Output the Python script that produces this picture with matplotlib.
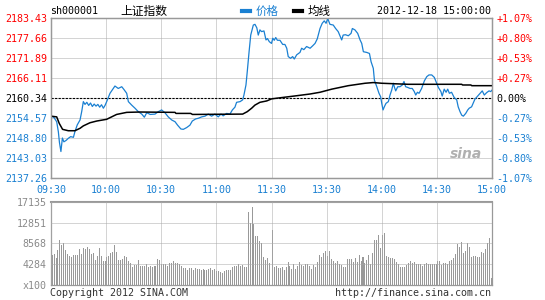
import numpy as np
import matplotlib.pyplot as plt
from matplotlib.lines import Line2D

plt.rcParams['font.family'] = ['DejaVu Sans Mono', 'Noto Sans CJK SC']

# ---- data ----
prev_close = 2160.34
price_ticks = [2137.26, 2143.03, 2148.80, 2154.57, 2160.34, 2166.11, 2171.89, 2177.66, 2183.43]
price_labels = ['2137.26', '2143.03', '2148.80', '2154.57', '2160.34',
                '2166.11', '2171.89', '2177.66', '2183.43']
pct_labels = ['-1.07%', '-0.80%', '-0.53%', '-0.27%', '0.00%',
              '+0.27%', '+0.53%', '+0.80%', '+1.07%']
time_ticks = [0, 30, 60, 90, 120, 150, 180, 210, 240]
time_labels = ['09:30', '10:00', '10:30', '11:00', '11:30', '13:30', '14:00', '14:30', '15:00']
vol_ticks = [0, 4284, 8568, 12851, 17135]
vol_labels = ['x100', '4284', '8568', '12851', '17135']

# minutes since 09:30 (lunch break removed) and index price
price_t = [0, 1.5, 3.1, 4.0, 4.6, 5.4, 6.2, 7.0, 8.2, 9.4, 10.7, 12.2, 13.0, 14.3, 15.8, 16.7,
           17.6, 18.5, 19.5, 20.5, 21.5, 22.5, 23.5, 24.5, 25.5, 26.5, 27.5, 28.5, 29.4, 30.3,
           32.1, 33.9, 34.8, 36.6, 38.5, 39.7, 41.2, 42.1, 43.9, 45.7, 47.0, 47.5, 49.4, 50.8,
           52.1, 54.0, 56.6, 58.4, 60.2, 62.0, 63.8, 65.7, 67.5, 68.9, 70.7, 72.0, 73.8, 75.6,
           76.9, 78.7, 80.2, 82.0, 83.8, 85.6, 87.4, 89.2, 91.0, 92.5, 93.7, 95.6, 97.4, 98.7,
           100.1, 101.0, 102.9, 104.3, 105.0, 106.1, 106.8, 107.8, 108.7, 110.1, 111.0, 112.0,
           112.8, 113.7, 114.6, 115.9, 117.0, 117.8, 118.8, 120.0, 120.7, 121.5, 122.3, 123.2,
           124.6, 126.1, 127.3, 128.3, 129.1, 130.4, 131.5, 132.4, 133.7, 135.5, 136.4, 137.6,
           139.1, 141.0, 142.4, 143.7, 144.9, 146.4, 147.6, 148.7, 149.7, 150.6, 151.8, 153.6,
           154.9, 156.3, 158.2, 159.0, 160.3, 161.8, 163.3, 164.0, 165.4, 166.9, 168.2, 169.1,
           170.0, 171.8, 173.3, 174.2, 175.4, 176.0, 177.3, 178.5, 179.4, 180.0, 180.7, 181.4,
           182.3, 183.6, 184.5, 185.4, 186.3, 187.0, 187.6, 188.7, 189.9, 191.2, 192.1, 193.0,
           194.1, 195.4, 196.6, 197.7, 198.5, 199.4, 200.3, 201.7, 203.2, 204.5, 205.7, 207.2,
           208.6, 209.9, 210.8, 212.2, 212.9, 214.0, 215.0, 215.9, 216.8, 218.0, 219.4, 220.8,
           221.6, 222.6, 223.5, 224.4, 225.7, 226.8, 227.6, 228.9, 229.9, 230.7, 232.2, 233.5,
           234.7, 235.8, 237.1, 238.4, 239.3, 240.0]
price_v = [2155.1, 2154.8, 2153.5, 2150.6, 2147.5, 2144.9, 2148.8, 2147.7, 2148.1, 2148.7, 2149.2,
           2149.0, 2150.6, 2152.6, 2154.0, 2156.4, 2159.3, 2158.5, 2159.1, 2158.2, 2158.9, 2157.9,
           2158.6, 2158.0, 2158.5, 2157.7, 2158.4, 2157.4, 2158.2, 2159.3, 2161.7, 2163.1, 2163.8,
           2163.1, 2163.6, 2162.8, 2161.7, 2159.3, 2158.3, 2157.4, 2156.7, 2156.4, 2155.7, 2154.8,
           2156.1, 2155.6, 2155.7, 2156.4, 2156.9, 2156.1, 2154.9, 2154.0, 2153.5, 2152.5, 2151.4,
           2151.3, 2151.8, 2152.5, 2153.7, 2154.3, 2154.5, 2154.9, 2155.1, 2155.7, 2155.1, 2155.7,
           2154.9, 2155.7, 2155.2, 2155.9, 2155.7, 2156.9, 2157.7, 2159.1, 2159.3, 2159.8, 2161.2,
           2164.1, 2167.9, 2173.7, 2178.5, 2181.4, 2181.6, 2180.6, 2178.5, 2180.0, 2179.5, 2179.7,
           2177.1, 2177.5, 2176.6, 2176.1, 2177.6, 2177.0, 2177.8, 2177.0, 2177.0, 2175.8, 2175.8,
           2174.7, 2172.3, 2171.8, 2172.3, 2171.6, 2172.8, 2173.5, 2174.7, 2174.3, 2175.2, 2174.7,
           2175.4, 2176.1, 2177.4, 2180.4, 2181.9, 2182.6, 2181.9, 2183.3, 2181.6, 2181.4, 2180.4,
           2179.5, 2177.1, 2178.5, 2178.6, 2178.3, 2179.0, 2180.4, 2180.0, 2179.0, 2177.1, 2176.1,
           2173.7, 2173.5, 2173.2, 2170.8, 2168.9, 2165.5, 2163.6, 2161.7, 2160.7, 2158.8, 2156.9,
           2157.8, 2158.8, 2159.3, 2161.2, 2162.6, 2164.6, 2163.3, 2162.4, 2163.6, 2163.6, 2164.1,
           2165.1, 2163.6, 2163.4, 2163.1, 2163.1, 2162.2, 2161.2, 2162.0, 2161.7, 2163.1, 2165.3,
           2166.5, 2167.0, 2167.0, 2166.3, 2164.6, 2163.4, 2162.2, 2160.9, 2162.9, 2162.0, 2162.9,
           2161.7, 2162.0, 2160.5, 2159.8, 2157.8, 2156.4, 2155.4, 2155.1, 2155.9, 2156.9, 2157.4,
           2157.8, 2159.0, 2160.0, 2160.9, 2161.7, 2162.4, 2161.2, 2161.9, 2162.4, 2162.2, 2162.6]

avg_t = [0, 3.1, 4.5, 6.3, 9.4, 13.0, 15.8, 17.6, 21.2, 24.9, 30.3, 33.0, 35.7, 41.2, 48.4, 67.5,
         68.0, 76.0, 77.0, 104.3, 106.8, 109.2, 111.0, 113.7, 117.4, 120.1, 124.6, 133.7, 141.0,
         146.4, 152.8, 161.8, 170.9, 175.4, 180.0, 194.4, 223.5, 224.0, 228.5, 229.0, 240.0]
avg_v = [2155.1, 2154.9, 2153.0, 2151.3, 2150.9, 2150.9, 2151.6, 2152.3, 2153.2, 2153.7, 2154.2,
         2154.9, 2155.6, 2156.2, 2156.3, 2156.2, 2155.9, 2155.9, 2155.6, 2155.7, 2156.4, 2157.4,
         2158.3, 2159.1, 2159.5, 2160.1, 2160.4, 2161.0, 2161.5, 2162.0, 2162.9, 2163.9, 2164.6,
         2164.8, 2164.6, 2164.3, 2164.3, 2164.1, 2164.1, 2163.9, 2163.9]

# volume (x100), morning and afternoon sessions
vol_am = [6170, 6370, 5480, 7200, 9250, 8225, 8570, 7200, 6370, 5960,
          5690, 6170, 6170, 6170, 7330, 6370, 7540, 7330, 7750, 7330,
          6370, 6650, 5140, 5960, 7540, 5960, 5000, 4930, 5690, 5960,
          6650, 6850, 8225, 6850, 5140, 5140, 5280, 5960, 5830, 4930,
          4460, 3770, 4110, 4110, 5140, 3910, 3910, 3910, 4320, 3770,
          3910, 3770, 3910, 3910, 5280, 5140, 4320, 4320, 4320, 3910,
          4590, 4460, 4870, 4460, 4590, 4320, 3910, 3430, 3430, 3080,
          3430, 3430, 3080, 3430, 3220, 3220, 3080, 3220, 3080, 3080,
          3220, 3430, 3080, 3220, 2950, 2950, 2740, 2540, 2950, 3080,
          3080, 3080, 3630, 3910, 3910, 4320, 3910, 4110, 3770, 3770,
          15080, 12820, 16110, 12540, 10080, 10080, 9120, 8570, 5690, 5140, 5480, 4460]
vol_pm = [11310, 3770, 3910, 3430, 3430, 3630, 3080, 3630, 4800, 3910,
          3220, 4320, 3220, 3910, 4800, 4110, 3910, 4320, 4320, 3910,
          3220, 4110, 3770, 4800, 6170, 5830, 6510, 7060, 5960, 7060,
          5280, 5000, 4590, 5000, 4320, 4110, 3770, 3630, 5280, 5280,
          5280, 4800, 5480, 4800, 6170, 5000, 5830, 4590, 5140, 6170,
          4320, 6510, 9250, 9250, 10280, 7540, 10280, 10620, 5960, 5690,
          5480, 5480, 5280, 4800, 4320, 3630, 3770, 3630, 4110, 4450,
          5000, 4450, 4800, 4320, 4320, 4320, 3910, 4320, 4590, 4320,
          4320, 4320, 4320, 4320, 5000, 5000, 4110, 4590, 4590, 4320,
          5000, 5140, 5480, 6370, 8430, 7880, 8910, 6510, 7060, 8700,
          7750, 5830, 5960, 5960, 5830, 5690, 6850, 6650, 7330, 8570,
          9600, 1370]

BLUE = '#1a80d2'
RED = '#ff0000'
GRAY = '#999999'
FS = 7.2

fig = plt.figure(figsize=(5.45, 3.0), dpi=100)
ax = fig.add_axes([51 / 545, 1 - 178 / 300, 441 / 545, 160 / 300])
axv = fig.add_axes([51 / 545, 1 - 285 / 300, 441 / 545, 83.3 / 300])

dot = (0, (1, 1))
for a in (ax, axv):
    a.set_xlim(0, 240)
    a.set_xticks(time_ticks)
    a.tick_params(length=0)
    a.grid(True, color='#aaaaaa', linestyle=dot, linewidth=0.72)
    a.set_axisbelow(False)
    for s in a.spines.values():
        s.set_color(GRAY)
        s.set_linewidth(0.9)

# price panel
ax.set_ylim(price_ticks[0], price_ticks[-1])
ax.set_yticks(price_ticks)
ax.set_yticklabels(price_labels, fontsize=FS)
ax.set_xticklabels(time_labels, fontsize=FS, color=BLUE)
ax.tick_params(axis='y', pad=3)
ax.tick_params(axis='x', pad=5)
for i, lab in enumerate(ax.get_yticklabels()):
    lab.set_color(RED if i > 4 else ('black' if i == 4 else BLUE))

ax.axhline(prev_close, color='black', linestyle=(0, (2, 1.2)), linewidth=0.8, zorder=3)
ax.plot(price_t, price_v, color=BLUE, linewidth=0.9, zorder=4)
ax.plot(avg_t, avg_v, color='black', linewidth=1.1, zorder=5)
ax.text(0.94, 0.15, 'sina', transform=ax.transAxes, ha='center', va='center',
        fontsize=10, fontstyle='italic', fontweight='bold', color='#b0b0b0',
        family='DejaVu Sans', zorder=2)

ax2 = ax.twinx()
ax2.set_ylim(price_ticks[0], price_ticks[-1])
ax2.set_yticks(price_ticks)
ax2.set_yticklabels(pct_labels, fontsize=FS)
ax2.tick_params(length=0, pad=3)
for s in ax2.spines.values():
    s.set_color(GRAY)
    s.set_linewidth(0.9)
for i, lab in enumerate(ax2.get_yticklabels()):
    lab.set_color(RED if i > 4 else ('black' if i == 4 else BLUE))

# volume panel
am_x = np.linspace(0.6, 119.0, len(vol_am))
pm_x = np.linspace(120.4, 239.6, len(vol_pm))
axv.bar(am_x, vol_am, width=0.55, color=GRAY, linewidth=0, zorder=1)
axv.bar(pm_x, vol_pm, width=0.55, color=GRAY, linewidth=0, zorder=1)
axv.set_ylim(0, vol_ticks[-1])
axv.set_yticks(vol_ticks)
axv.set_yticklabels(vol_labels, fontsize=FS, color='#8a8a8a')
axv.set_xticklabels([])
axv.tick_params(axis='y', pad=3)
axv.spines['top'].set_linewidth(1.5)

# header and footer
ty = 1 - 11.5 / 300
fig.text(50 / 545, ty, 'sh000001', ha='left', va='center', fontsize=FS)
fig.text(120 / 545, ty, '上证指数', ha='left', va='center', fontsize=8.5,
         family=['Noto Sans CJK SC'])
fig.text(491 / 545, ty, '2012-12-18 15:00:00', ha='right', va='center', fontsize=FS)
handles = [Line2D([], [], color=BLUE, linewidth=3), Line2D([], [], color='black', linewidth=3)]
leg = fig.legend(handles, ['价格', '均线'], ncol=2, loc='center', bbox_to_anchor=(0.525, ty),
                 frameon=False, handlelength=0.7, handletextpad=0.5, columnspacing=1.3,
                 borderpad=0, prop={'family': ['Noto Sans CJK SC'], 'size': 8.3})
leg.get_texts()[0].set_color(BLUE)

fy = 1 - 293 / 300
fig.text(50 / 545, fy, 'Copyright 2012 SINA.COM', ha='left', va='center', fontsize=FS, color='#333333')
fig.text(491 / 545, fy, 'http://finance.sina.com.cn', ha='right', va='center', fontsize=FS,
         color='#333333')

fig.savefig('out.png', dpi=100, facecolor='white')
